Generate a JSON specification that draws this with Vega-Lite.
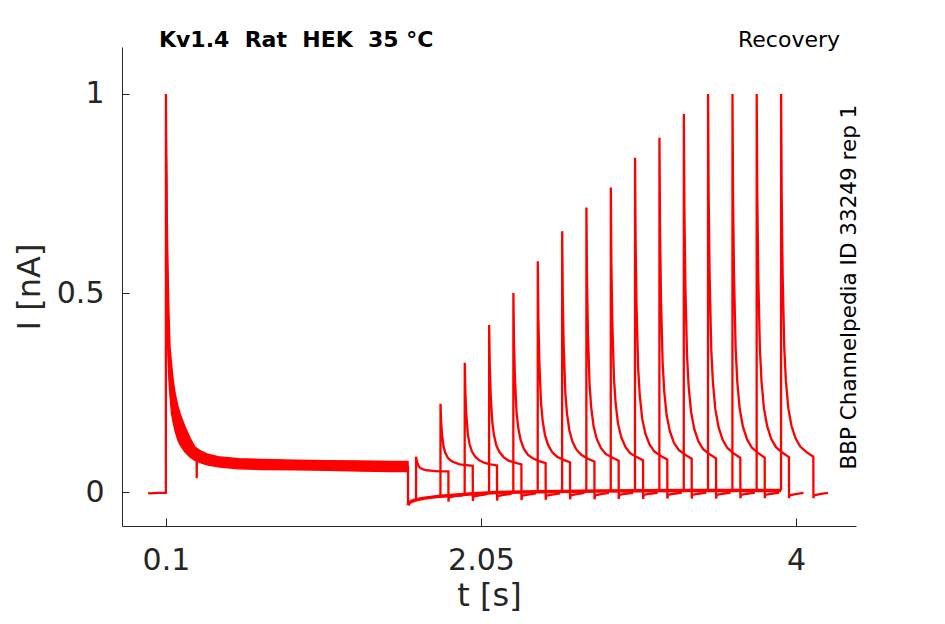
{
  "$schema": "https://vega.github.io/schema/vega-lite/v6.json",
  "width": 734,
  "height": 479,
  "autosize": "none",
  "padding": {"left": 122, "top": 47, "right": 89, "bottom": 98},
  "background": "white",
  "config": {
    "view": {"stroke": null},
    "axis": {
      "domainColor": "#262626", "tickColor": "#262626", "labelColor": "#262626", "titleColor": "#262626",
      "labelFont": "DejaVu Sans", "titleFont": "DejaVu Sans",
      "labelFontSize": 30, "titleFontSize": 32, "titleFontWeight": "normal",
      "grid": false, "tickSize": -7, "domainWidth": 1, "tickWidth": 1,
      "labelOverlap": false, "labelFlush": false
    }
  },
  "datasets": {
    "band": [
      {"t": 0.1, "i": 1.0, "i2": 1.0}, {"t": 0.101, "i": 0.85, "i2": 0.95}, {"t": 0.103, "i": 0.533, "i2": 0.85},
      {"t": 0.105, "i": 0.48, "i2": 0.8}, {"t": 0.107, "i": 0.43, "i2": 0.72}, {"t": 0.11, "i": 0.38, "i2": 0.62},
      {"t": 0.114, "i": 0.33, "i2": 0.533}, {"t": 0.119, "i": 0.28, "i2": 0.44}, {"t": 0.125, "i": 0.245, "i2": 0.364},
      {"t": 0.135, "i": 0.198, "i2": 0.32}, {"t": 0.145, "i": 0.175, "i2": 0.28}, {"t": 0.156, "i": 0.155, "i2": 0.25},
      {"t": 0.175, "i": 0.13, "i2": 0.213}, {"t": 0.187, "i": 0.12, "i2": 0.198}, {"t": 0.197, "i": 0.113, "i2": 0.186},
      {"t": 0.22, "i": 0.1, "i2": 0.162}, {"t": 0.25, "i": 0.088, "i2": 0.135}, {"t": 0.28, "i": 0.08, "i2": 0.113},
      {"t": 0.32, "i": 0.073, "i2": 0.102}, {"t": 0.36, "i": 0.068, "i2": 0.095}, {"t": 0.434, "i": 0.063, "i2": 0.088},
      {"t": 0.55, "i": 0.059, "i2": 0.084}, {"t": 0.7, "i": 0.057, "i2": 0.082}, {"t": 0.9, "i": 0.056, "i2": 0.08},
      {"t": 1.1, "i": 0.055, "i2": 0.079}, {"t": 1.3, "i": 0.053, "i2": 0.078}, {"t": 1.5, "i": 0.052, "i2": 0.077},
      {"t": 1.598, "i": 0.052, "i2": 0.077}
    ],
    "base": [
      {"t": 1.5985, "i": -0.033}, {"t": 1.605, "i": -0.027}, {"t": 1.62, "i": -0.023}, {"t": 1.65, "i": -0.019},
      {"t": 1.7, "i": -0.015}, {"t": 1.8, "i": -0.01}, {"t": 1.9, "i": -0.007}, {"t": 2.0, "i": -0.004},
      {"t": 2.15, "i": -0.001}, {"t": 2.4, "i": 0.001}, {"t": 2.8, "i": 0.003}, {"t": 3.3, "i": 0.004},
      {"t": 3.907, "i": 0.004}
    ],
    "sweeps": [
      {"s": "p1", "t": -0.01, "i": -0.002}, {"s": "p1", "t": 0.0, "i": -0.003}, {"s": "p1", "t": 0.05, "i": -0.002},
      {"s": "p1", "t": 0.0995, "i": -0.002}, {"s": "p1", "t": 0.1, "i": 1.0}, {"s": "p1", "t": 0.103, "i": 0.75},
      {"s": "p1", "t": 0.107, "i": 0.55}, {"s": "p1", "t": 0.112, "i": 0.45}, {"s": "p1", "t": 0.118, "i": 0.37},
      {"s": "p1", "t": 0.125, "i": 0.31}, {"s": "p1", "t": 0.135, "i": 0.255}, {"s": "p1", "t": 0.15, "i": 0.21},
      {"s": "p1", "t": 0.17, "i": 0.17}, {"s": "p1", "t": 0.19, "i": 0.145}, {"s": "p1", "t": 0.22, "i": 0.12},
      {"s": "p1", "t": 0.25, "i": 0.105}, {"s": "p1", "t": 0.28, "i": 0.095}, {"s": "p1", "t": 0.29, "i": 0.093},
      {"s": "p1", "t": 0.2905, "i": 0.035}, {"s": "p1", "t": 0.2915, "i": 0.09}, {"s": "p1", "t": 0.32, "i": 0.088},
      {"s": "p1", "t": 0.36, "i": 0.082}, {"s": "p1", "t": 0.45, "i": 0.075}, {"s": "p1", "t": 0.6, "i": 0.071},
      {"s": "p1", "t": 0.8, "i": 0.068}, {"s": "p1", "t": 1.0, "i": 0.067}, {"s": "p1", "t": 1.3, "i": 0.065},
      {"s": "p1", "t": 1.598, "i": 0.064}, {"s": "p1", "t": 1.5985, "i": -0.033},

      {"s": "s1", "t": 1.648, "i": -0.019}, {"s": "s1", "t": 1.6485, "i": 0.089}, {"s": "s1", "t": 1.652, "i": 0.079},
      {"s": "s1", "t": 1.658, "i": 0.071}, {"s": "s1", "t": 1.668, "i": 0.063}, {"s": "s1", "t": 1.678, "i": 0.06},
      {"s": "s1", "t": 1.693, "i": 0.057}, {"s": "s1", "t": 1.713, "i": 0.055}, {"s": "s1", "t": 1.738, "i": 0.054},
      {"s": "s1", "t": 1.768, "i": 0.053}, {"s": "s1", "t": 1.808, "i": 0.052}, {"s": "s1", "t": 1.848, "i": 0.052},
      {"s": "s1", "t": 1.8485, "i": -0.024}, {"s": "s1", "t": 1.852, "i": -0.013}, {"s": "s1", "t": 1.888, "i": -0.01},
      {"s": "s1", "t": 1.938, "i": -0.008},

      {"s": "s2", "t": 1.799, "i": -0.01}, {"s": "s2", "t": 1.7995, "i": 0.222}, {"s": "s2", "t": 1.803, "i": 0.178},
      {"s": "s2", "t": 1.809, "i": 0.144}, {"s": "s2", "t": 1.819, "i": 0.113}, {"s": "s2", "t": 1.829, "i": 0.099},
      {"s": "s2", "t": 1.844, "i": 0.087}, {"s": "s2", "t": 1.864, "i": 0.079}, {"s": "s2", "t": 1.889, "i": 0.074},
      {"s": "s2", "t": 1.919, "i": 0.07}, {"s": "s2", "t": 1.959, "i": 0.068}, {"s": "s2", "t": 1.999, "i": 0.066},
      {"s": "s2", "t": 1.9995, "i": -0.022}, {"s": "s2", "t": 2.003, "i": -0.011}, {"s": "s2", "t": 2.039, "i": -0.008},
      {"s": "s2", "t": 2.089, "i": -0.005},

      {"s": "s3", "t": 1.949, "i": -0.006}, {"s": "s3", "t": 1.9495, "i": 0.325}, {"s": "s3", "t": 1.953, "i": 0.253},
      {"s": "s3", "t": 1.959, "i": 0.196}, {"s": "s3", "t": 1.969, "i": 0.144}, {"s": "s3", "t": 1.979, "i": 0.121},
      {"s": "s3", "t": 1.994, "i": 0.102}, {"s": "s3", "t": 2.014, "i": 0.089}, {"s": "s3", "t": 2.039, "i": 0.08},
      {"s": "s3", "t": 2.069, "i": 0.074}, {"s": "s3", "t": 2.109, "i": 0.07}, {"s": "s3", "t": 2.149, "i": 0.067},
      {"s": "s3", "t": 2.1495, "i": -0.021}, {"s": "s3", "t": 2.153, "i": -0.01}, {"s": "s3", "t": 2.189, "i": -0.007},
      {"s": "s3", "t": 2.239, "i": -0.004},

      {"s": "s4", "t": 2.1, "i": -0.002}, {"s": "s4", "t": 2.1005, "i": 0.42}, {"s": "s4", "t": 2.104, "i": 0.322},
      {"s": "s4", "t": 2.11, "i": 0.245}, {"s": "s4", "t": 2.12, "i": 0.175}, {"s": "s4", "t": 2.13, "i": 0.144},
      {"s": "s4", "t": 2.145, "i": 0.117}, {"s": "s4", "t": 2.165, "i": 0.1}, {"s": "s4", "t": 2.19, "i": 0.088},
      {"s": "s4", "t": 2.22, "i": 0.079}, {"s": "s4", "t": 2.26, "i": 0.074}, {"s": "s4", "t": 2.3, "i": 0.07},
      {"s": "s4", "t": 2.3005, "i": -0.02}, {"s": "s4", "t": 2.304, "i": -0.009}, {"s": "s4", "t": 2.34, "i": -0.006},
      {"s": "s4", "t": 2.39, "i": -0.003},

      {"s": "s5", "t": 2.25, "i": 0.0}, {"s": "s5", "t": 2.2505, "i": 0.5}, {"s": "s5", "t": 2.254, "i": 0.38},
      {"s": "s5", "t": 2.26, "i": 0.287}, {"s": "s5", "t": 2.27, "i": 0.201}, {"s": "s5", "t": 2.28, "i": 0.163},
      {"s": "s5", "t": 2.295, "i": 0.131}, {"s": "s5", "t": 2.315, "i": 0.109}, {"s": "s5", "t": 2.34, "i": 0.094},
      {"s": "s5", "t": 2.37, "i": 0.085}, {"s": "s5", "t": 2.41, "i": 0.078}, {"s": "s5", "t": 2.45, "i": 0.073},
      {"s": "s5", "t": 2.4505, "i": -0.019}, {"s": "s5", "t": 2.454, "i": -0.009}, {"s": "s5", "t": 2.49, "i": -0.006},
      {"s": "s5", "t": 2.54, "i": -0.003},

      {"s": "s6", "t": 2.401, "i": 0.001}, {"s": "s6", "t": 2.4015, "i": 0.58}, {"s": "s6", "t": 2.405, "i": 0.439},
      {"s": "s6", "t": 2.411, "i": 0.328}, {"s": "s6", "t": 2.421, "i": 0.227}, {"s": "s6", "t": 2.431, "i": 0.181},
      {"s": "s6", "t": 2.446, "i": 0.143}, {"s": "s6", "t": 2.466, "i": 0.118}, {"s": "s6", "t": 2.491, "i": 0.1},
      {"s": "s6", "t": 2.521, "i": 0.089}, {"s": "s6", "t": 2.561, "i": 0.081}, {"s": "s6", "t": 2.601, "i": 0.075},
      {"s": "s6", "t": 2.6015, "i": -0.018}, {"s": "s6", "t": 2.605, "i": -0.008}, {"s": "s6", "t": 2.641, "i": -0.005},
      {"s": "s6", "t": 2.691, "i": -0.002},

      {"s": "s7", "t": 2.552, "i": 0.002}, {"s": "s7", "t": 2.5525, "i": 0.655}, {"s": "s7", "t": 2.556, "i": 0.493},
      {"s": "s7", "t": 2.562, "i": 0.366}, {"s": "s7", "t": 2.572, "i": 0.25}, {"s": "s7", "t": 2.582, "i": 0.198},
      {"s": "s7", "t": 2.597, "i": 0.155}, {"s": "s7", "t": 2.617, "i": 0.126}, {"s": "s7", "t": 2.642, "i": 0.106},
      {"s": "s7", "t": 2.672, "i": 0.093}, {"s": "s7", "t": 2.712, "i": 0.084}, {"s": "s7", "t": 2.752, "i": 0.077},
      {"s": "s7", "t": 2.7525, "i": -0.018}, {"s": "s7", "t": 2.756, "i": -0.008}, {"s": "s7", "t": 2.792, "i": -0.005},
      {"s": "s7", "t": 2.842, "i": -0.002},

      {"s": "s8", "t": 2.702, "i": 0.003}, {"s": "s8", "t": 2.7025, "i": 0.715}, {"s": "s8", "t": 2.706, "i": 0.537},
      {"s": "s8", "t": 2.712, "i": 0.397}, {"s": "s8", "t": 2.722, "i": 0.27}, {"s": "s8", "t": 2.732, "i": 0.213},
      {"s": "s8", "t": 2.747, "i": 0.165}, {"s": "s8", "t": 2.767, "i": 0.133}, {"s": "s8", "t": 2.792, "i": 0.111},
      {"s": "s8", "t": 2.822, "i": 0.096}, {"s": "s8", "t": 2.862, "i": 0.087}, {"s": "s8", "t": 2.902, "i": 0.079},
      {"s": "s8", "t": 2.9025, "i": -0.017}, {"s": "s8", "t": 2.906, "i": -0.007}, {"s": "s8", "t": 2.942, "i": -0.004},
      {"s": "s8", "t": 2.992, "i": -0.002},

      {"s": "s9", "t": 2.853, "i": 0.003}, {"s": "s9", "t": 2.8535, "i": 0.765}, {"s": "s9", "t": 2.857, "i": 0.573},
      {"s": "s9", "t": 2.863, "i": 0.423}, {"s": "s9", "t": 2.873, "i": 0.286}, {"s": "s9", "t": 2.883, "i": 0.224},
      {"s": "s9", "t": 2.898, "i": 0.172}, {"s": "s9", "t": 2.918, "i": 0.138}, {"s": "s9", "t": 2.943, "i": 0.114},
      {"s": "s9", "t": 2.973, "i": 0.098}, {"s": "s9", "t": 3.013, "i": 0.088}, {"s": "s9", "t": 3.053, "i": 0.08},
      {"s": "s9", "t": 3.0535, "i": -0.017}, {"s": "s9", "t": 3.057, "i": -0.007}, {"s": "s9", "t": 3.093, "i": -0.004},
      {"s": "s9", "t": 3.143, "i": -0.002},

      {"s": "s10", "t": 3.003, "i": 0.003}, {"s": "s10", "t": 3.0035, "i": 0.84}, {"s": "s10", "t": 3.007, "i": 0.628},
      {"s": "s10", "t": 3.013, "i": 0.461}, {"s": "s10", "t": 3.023, "i": 0.309}, {"s": "s10", "t": 3.033, "i": 0.241},
      {"s": "s10", "t": 3.048, "i": 0.184}, {"s": "s10", "t": 3.068, "i": 0.146}, {"s": "s10", "t": 3.093, "i": 0.12},
      {"s": "s10", "t": 3.123, "i": 0.102}, {"s": "s10", "t": 3.163, "i": 0.091}, {"s": "s10", "t": 3.203, "i": 0.082},
      {"s": "s10", "t": 3.2035, "i": -0.016}, {"s": "s10", "t": 3.207, "i": -0.007}, {"s": "s10", "t": 3.243, "i": -0.004},
      {"s": "s10", "t": 3.293, "i": -0.001},

      {"s": "s11", "t": 3.154, "i": 0.004}, {"s": "s11", "t": 3.1545, "i": 0.89}, {"s": "s11", "t": 3.158, "i": 0.664},
      {"s": "s11", "t": 3.164, "i": 0.487}, {"s": "s11", "t": 3.174, "i": 0.326}, {"s": "s11", "t": 3.184, "i": 0.253},
      {"s": "s11", "t": 3.199, "i": 0.193}, {"s": "s11", "t": 3.219, "i": 0.153}, {"s": "s11", "t": 3.244, "i": 0.124},
      {"s": "s11", "t": 3.274, "i": 0.106}, {"s": "s11", "t": 3.314, "i": 0.094}, {"s": "s11", "t": 3.354, "i": 0.084},
      {"s": "s11", "t": 3.3545, "i": -0.016}, {"s": "s11", "t": 3.358, "i": -0.007}, {"s": "s11", "t": 3.394, "i": -0.004},
      {"s": "s11", "t": 3.444, "i": -0.001},

      {"s": "s12", "t": 3.305, "i": 0.004}, {"s": "s12", "t": 3.3055, "i": 0.95}, {"s": "s12", "t": 3.309, "i": 0.708},
      {"s": "s12", "t": 3.315, "i": 0.518}, {"s": "s12", "t": 3.325, "i": 0.345}, {"s": "s12", "t": 3.335, "i": 0.267},
      {"s": "s12", "t": 3.35, "i": 0.202}, {"s": "s12", "t": 3.37, "i": 0.159}, {"s": "s12", "t": 3.395, "i": 0.128},
      {"s": "s12", "t": 3.425, "i": 0.108}, {"s": "s12", "t": 3.465, "i": 0.095}, {"s": "s12", "t": 3.505, "i": 0.085},
      {"s": "s12", "t": 3.5055, "i": -0.016}, {"s": "s12", "t": 3.509, "i": -0.007}, {"s": "s12", "t": 3.545, "i": -0.004},
      {"s": "s12", "t": 3.595, "i": -0.001},

      {"s": "s13", "t": 3.455, "i": 0.004}, {"s": "s13", "t": 3.4555, "i": 1.0}, {"s": "s13", "t": 3.459, "i": 0.744},
      {"s": "s13", "t": 3.465, "i": 0.543}, {"s": "s13", "t": 3.475, "i": 0.36}, {"s": "s13", "t": 3.485, "i": 0.278},
      {"s": "s13", "t": 3.5, "i": 0.209}, {"s": "s13", "t": 3.52, "i": 0.164}, {"s": "s13", "t": 3.545, "i": 0.132},
      {"s": "s13", "t": 3.575, "i": 0.111}, {"s": "s13", "t": 3.615, "i": 0.097}, {"s": "s13", "t": 3.655, "i": 0.086},
      {"s": "s13", "t": 3.6555, "i": -0.015}, {"s": "s13", "t": 3.659, "i": -0.007}, {"s": "s13", "t": 3.695, "i": -0.004},
      {"s": "s13", "t": 3.745, "i": -0.001},

      {"s": "s14", "t": 3.606, "i": 0.004}, {"s": "s14", "t": 3.6065, "i": 1.0}, {"s": "s14", "t": 3.61, "i": 0.744},
      {"s": "s14", "t": 3.616, "i": 0.544}, {"s": "s14", "t": 3.626, "i": 0.361}, {"s": "s14", "t": 3.636, "i": 0.279},
      {"s": "s14", "t": 3.651, "i": 0.21}, {"s": "s14", "t": 3.671, "i": 0.165}, {"s": "s14", "t": 3.696, "i": 0.133},
      {"s": "s14", "t": 3.726, "i": 0.112}, {"s": "s14", "t": 3.766, "i": 0.098}, {"s": "s14", "t": 3.806, "i": 0.087},
      {"s": "s14", "t": 3.8065, "i": -0.015}, {"s": "s14", "t": 3.81, "i": -0.007}, {"s": "s14", "t": 3.846, "i": -0.004},
      {"s": "s14", "t": 3.896, "i": -0.001},

      {"s": "s15", "t": 3.756, "i": 0.004}, {"s": "s15", "t": 3.7565, "i": 1.0}, {"s": "s15", "t": 3.76, "i": 0.745},
      {"s": "s15", "t": 3.766, "i": 0.544}, {"s": "s15", "t": 3.776, "i": 0.362}, {"s": "s15", "t": 3.786, "i": 0.28},
      {"s": "s15", "t": 3.801, "i": 0.211}, {"s": "s15", "t": 3.821, "i": 0.166}, {"s": "s15", "t": 3.846, "i": 0.134},
      {"s": "s15", "t": 3.876, "i": 0.113}, {"s": "s15", "t": 3.916, "i": 0.099}, {"s": "s15", "t": 3.956, "i": 0.088},
      {"s": "s15", "t": 3.9565, "i": -0.015}, {"s": "s15", "t": 3.96, "i": -0.008}, {"s": "s15", "t": 3.996, "i": -0.005},
      {"s": "s15", "t": 4.046, "i": -0.002},

      {"s": "s16", "t": 3.907, "i": 0.004}, {"s": "s16", "t": 3.9075, "i": 1.0}, {"s": "s16", "t": 3.911, "i": 0.745},
      {"s": "s16", "t": 3.917, "i": 0.545}, {"s": "s16", "t": 3.927, "i": 0.362}, {"s": "s16", "t": 3.937, "i": 0.28},
      {"s": "s16", "t": 3.952, "i": 0.211}, {"s": "s16", "t": 3.972, "i": 0.166}, {"s": "s16", "t": 3.997, "i": 0.135},
      {"s": "s16", "t": 4.027, "i": 0.114}, {"s": "s16", "t": 4.067, "i": 0.1}, {"s": "s16", "t": 4.107, "i": 0.089},
      {"s": "s16", "t": 4.1075, "i": -0.015}, {"s": "s16", "t": 4.111, "i": -0.008}, {"s": "s16", "t": 4.147, "i": -0.005},
      {"s": "s16", "t": 4.197, "i": -0.002}
    ]
  },
  "encoding": {
    "x": {
      "field": "t", "type": "quantitative",
      "scale": {"domain": [-0.172, 4.371], "nice": false, "zero": false},
      "axis": {"title": "t [s]", "values": [0.1, 2.05, 4], "format": ".3~g", "labelPadding": 27, "titlePadding": 5, "tickSize": -8}
    },
    "y": {
      "field": "i", "type": "quantitative",
      "scale": {"domain": [-0.085, 1.118], "nice": false, "zero": false},
      "axis": {"title": "I [nA]", "values": [0, 0.5, 1], "format": ".3~g", "labelPadding": 25, "titlePadding": 10}
    }
  },
  "layer": [
    {
      "data": {"name": "band"},
      "mark": {"type": "area", "color": "#ff0000", "stroke": "#ff0000", "strokeWidth": 1.5, "opacity": 1},
      "encoding": {"y2": {"field": "i2"}}
    },
    {
      "data": {"name": "base"},
      "mark": {"type": "line", "color": "#ff0000", "strokeWidth": 3.5},
      "encoding": {}
    },
    {
      "data": {"name": "sweeps"},
      "mark": {"type": "line", "color": "#ff0000", "strokeWidth": 2.3},
      "encoding": {"detail": {"field": "s"}}
    },
    {
      "data": {"values": [{"t": 0.0567, "i": 1.136, "txt": "Kv1.4 \u00a0Rat \u00a0HEK \u00a035 °C"}]},
      "mark": {"type": "text", "align": "left", "baseline": "middle", "font": "DejaVu Sans", "fontSize": 22, "fontWeight": "bold", "color": "#000000"},
      "encoding": {"text": {"field": "txt"}}
    },
    {
      "data": {"values": [{"t": 4.272, "i": 1.136, "txt": "Recovery"}]},
      "mark": {"type": "text", "align": "right", "baseline": "middle", "font": "DejaVu Sans", "fontSize": 22, "color": "#000000"},
      "encoding": {"text": {"field": "txt"}}
    },
    {
      "data": {"values": [{"t": 4.334, "i": 0.515, "txt": "BBP Channelpedia ID 33249 rep 1"}]},
      "mark": {"type": "text", "align": "center", "baseline": "middle", "angle": 270, "font": "DejaVu Sans", "fontSize": 21.5, "color": "#000000"},
      "encoding": {"text": {"field": "txt"}}
    }
  ]
}
